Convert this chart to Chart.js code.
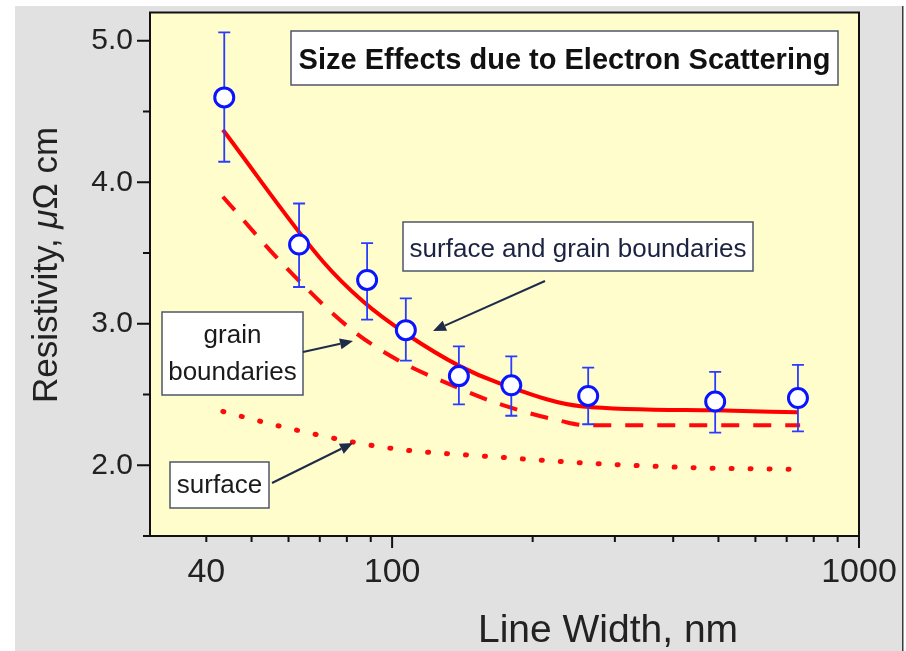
<!DOCTYPE html>
<html><head><meta charset="utf-8">
<script src="https://cdn.jsdelivr.net/npm/chart.js@4"></script>
<style>html,body{margin:0;padding:0;background:#fff;}canvas{display:block;}</style>
</head><body>
<canvas id="c" width="906" height="651"></canvas>
<script>
// ---- data ----
const lineWidthNm = [43.7, 63.2, 88.4, 107, 139, 180, 263, 492, 740];
const resistivity = [4.60, 3.56, 3.31, 2.955, 2.63, 2.565, 2.49, 2.45, 2.475];
const errUpper    = [5.06, 3.85, 3.57, 3.18, 2.84, 2.77, 2.69, 2.66, 2.71];
const errLower    = [4.145, 3.26, 3.03, 2.74, 2.43, 2.35, 2.29, 2.23, 2.24];

const totalFitX = [43.4, 71.1, 86.7, 107.7, 139.9, 170, 256, 492, 740];
const totalFitY = [4.371, 3.44, 3.157, 2.924, 2.699, 2.579, 2.416, 2.388, 2.374];
const grainFitX = [43.4, 58.5, 81.3, 104, 133, 168, 232, 262, 748];
const grainFitY = [3.898, 3.418, 2.967, 2.734, 2.572, 2.438, 2.31, 2.282, 2.282];
const surfFitX  = [43.4, 58.5, 87.6, 107.7, 160, 265, 487, 722];
const surfFitY  = [2.38, 2.27, 2.148, 2.106, 2.063, 2.014, 1.979, 1.972];

const xTickLabels = [40, 100, 1000];
const xMajorTicks = [100, 1000];
const xMinorTicks = [40, 50, 60, 70, 80, 90, 200, 300, 400, 500, 600, 700, 800, 900];
const yTickLabels = [2.0, 3.0, 4.0, 5.0];
const yMinorTicks = [1.5, 2.5, 3.5, 4.5];

const X_MIN = 30.3, X_MAX = 1000, Y_MIN = 1.5, Y_MAX = 5.2;
const FONT = "'Liberation Sans', Arial, Helvetica, sans-serif";

const zip = (xs, ys) => xs.map((x, i) => ({ x: x, y: ys[i] }));

function arrow(ctx, x1, y1, x2, y2) {
  const ang = Math.atan2(y2 - y1, x2 - x1);
  const L = 13, W = 5.5;
  const bx = x2 - L * Math.cos(ang), by = y2 - L * Math.sin(ang);
  ctx.beginPath();
  ctx.moveTo(x1, y1); ctx.lineTo(bx, by); ctx.stroke();
  ctx.beginPath();
  ctx.moveTo(x2, y2);
  ctx.lineTo(bx + W * Math.sin(ang), by - W * Math.cos(ang));
  ctx.lineTo(bx - W * Math.sin(ang), by + W * Math.cos(ang));
  ctx.closePath(); ctx.fill();
}

function box(ctx, x, y, w, h) {
  ctx.fillStyle = '#ffffff';
  ctx.fillRect(x, y, w, h);
  ctx.strokeStyle = '#4f5668';
  ctx.lineWidth = 1.5;
  ctx.strokeRect(x, y, w, h);
}

const deco = {
  id: 'deco',
  beforeDraw(chart) {
    const { ctx, chartArea: a } = chart;
    ctx.save();
    ctx.fillStyle = '#ffffff'; ctx.fillRect(0, 0, 906, 651);
    ctx.fillStyle = '#e1e1e1'; ctx.fillRect(15, 6, 887, 645);
    ctx.fillStyle = '#3a3a3a'; ctx.fillRect(902, 6, 1.5, 645);
    ctx.fillStyle = '#fffdcc'; ctx.fillRect(a.left, a.top, a.right - a.left, a.bottom - a.top);
    ctx.restore();
  },
  beforeDatasetDraw(chart, args) {
    if (args.index !== 0) return;
    const { ctx, scales: { x, y } } = chart;
    ctx.save();
    ctx.strokeStyle = '#2a3cff';
    ctx.lineWidth = 1.8;
    lineWidthNm.forEach((w, i) => {
      const px = x.getPixelForValue(w);
      const t = y.getPixelForValue(errUpper[i]);
      const b = y.getPixelForValue(errLower[i]);
      ctx.beginPath();
      ctx.moveTo(px, t); ctx.lineTo(px, b);
      ctx.moveTo(px - 6, t); ctx.lineTo(px + 6, t);
      ctx.moveTo(px - 6, b); ctx.lineTo(px + 6, b);
      ctx.stroke();
    });
    ctx.restore();
  },
  afterDraw(chart) {
    const { ctx, chartArea: a, scales: { x, y } } = chart;
    ctx.save();
    // frame
    ctx.strokeStyle = '#111'; ctx.lineWidth = 2;
    ctx.strokeRect(a.left, a.top, a.right - a.left, a.bottom - a.top);
    // tick marks
    ctx.lineWidth = 2;
    ctx.beginPath();
    yTickLabels.forEach(v => { const p = y.getPixelForValue(v); ctx.moveTo(a.left - 13, p); ctx.lineTo(a.left, p); });
    yMinorTicks.forEach(v => { const p = y.getPixelForValue(v); ctx.moveTo(a.left - 7, p); ctx.lineTo(a.left, p); });
    xMajorTicks.forEach(v => { const p = x.getPixelForValue(v); ctx.moveTo(p, a.bottom); ctx.lineTo(p, a.bottom + 12); });
    xMinorTicks.forEach(v => { const p = x.getPixelForValue(v); ctx.moveTo(p, a.bottom); ctx.lineTo(p, a.bottom + 6); });
    ctx.stroke();

    // axis titles
    ctx.fillStyle = '#222';
    ctx.textBaseline = 'alphabetic';
    ctx.textAlign = 'center';
    ctx.font = '39px ' + FONT;
    ctx.fillText('Line Width, nm', 608, 642);

    ctx.save();
    ctx.translate(57, 265);
    ctx.rotate(-Math.PI / 2);
    const parts = [['Resistivity, ', '35px ' + FONT], ['\u03BC', 'italic 35px ' + FONT], ['\u03A9 cm', '35px ' + FONT]];
    let total = 0;
    parts.forEach(p => { ctx.font = p[1]; total += ctx.measureText(p[0]).width; });
    let cx = -total / 2;
    ctx.textAlign = 'left';
    parts.forEach(p => { ctx.font = p[1]; ctx.fillText(p[0], cx, 0); cx += ctx.measureText(p[0]).width; });
    ctx.restore();

    // annotation boxes
    ctx.textAlign = 'center';
    box(ctx, 291, 31, 547, 54);
    ctx.fillStyle = '#111';
    ctx.font = 'bold 29px ' + FONT;
    ctx.fillText('Size Effects due to Electron Scattering', 564.5, 69);

    ctx.font = '26px ' + FONT;
    box(ctx, 403, 222, 350, 49);
    ctx.fillStyle = '#1c2340';
    ctx.fillText('surface and grain boundaries', 578, 257);

    box(ctx, 162, 312, 141, 83);
    ctx.fillStyle = '#1a1a1a';
    ctx.fillText('grain', 232.5, 343);
    ctx.fillText('boundaries', 232.5, 380);

    box(ctx, 170, 462, 99, 46);
    ctx.fillStyle = '#1a1a1a';
    ctx.fillText('surface', 219.5, 493);

    // arrows
    ctx.strokeStyle = '#1e2b4a'; ctx.fillStyle = '#1e2b4a'; ctx.lineWidth = 2;
    arrow(ctx, 545, 281, 433, 331);
    arrow(ctx, 303, 352, 353, 341);
    arrow(ctx, 272, 483, 353, 443);
    ctx.restore();
  }
};

new Chart(document.getElementById('c'), {
  type: 'scatter',
  data: {
    datasets: [
      { label: 'measured', data: zip(lineWidthNm, resistivity), showLine: false,
        pointRadius: 9.5, pointHoverRadius: 9.5, pointBorderWidth: 3,
        pointBorderColor: '#0a14ff', pointBackgroundColor: '#ffffff' },
      { label: 'surface and grain boundaries', data: zip(totalFitX, totalFitY), showLine: true,
        borderColor: '#ff0000', borderWidth: 4, pointRadius: 0, tension: 0.4,
        cubicInterpolationMode: 'monotone', fill: false },
      { label: 'grain boundaries', data: zip(grainFitX, grainFitY), showLine: true,
        borderColor: '#ff0a0a', borderWidth: 4, borderDash: [18, 14], pointRadius: 0, tension: 0.4,
        cubicInterpolationMode: 'monotone', fill: false },
      { label: 'surface', data: zip(surfFitX, surfFitY), showLine: true,
        borderColor: '#ff0a0a', borderWidth: 5, borderDash: [1, 18], borderCapStyle: 'round',
        pointRadius: 0, tension: 0.4, cubicInterpolationMode: 'monotone', fill: false }
    ]
  },
  options: {
    responsive: false, animation: false, events: [],
    layout: { padding: { top: 12, right: 47, left: 0, bottom: 0 } },
    plugins: { legend: { display: false }, tooltip: { enabled: false } },
    scales: {
      x: {
        type: 'logarithmic', min: X_MIN, max: X_MAX,
        grid: { display: false, drawTicks: false }, border: { display: false },
        afterBuildTicks(s) { s.ticks = xTickLabels.map(v => ({ value: v })); },
        afterFit(s) { s.height = 115; s.paddingLeft = 0; s.paddingRight = 0; },
        ticks: { autoSkip: false, maxRotation: 0, minRotation: 0, padding: 16, color: '#222',
          font: { family: FONT, size: 34 }, callback: v => String(v) }
      },
      y: {
        type: 'linear', min: Y_MIN, max: Y_MAX,
        grid: { display: false, drawTicks: false }, border: { display: false },
        afterBuildTicks(s) { s.ticks = yTickLabels.map(v => ({ value: v })); },
        afterFit(s) { s.width = 150; s.paddingTop = 0; s.paddingBottom = 0; },
        ticks: { autoSkip: false, padding: 17, color: '#222',
          font: { family: FONT, size: 30 }, callback: v => Number(v).toFixed(1) }
      }
    }
  },
  plugins: [deco]
});
</script>
</body></html>
